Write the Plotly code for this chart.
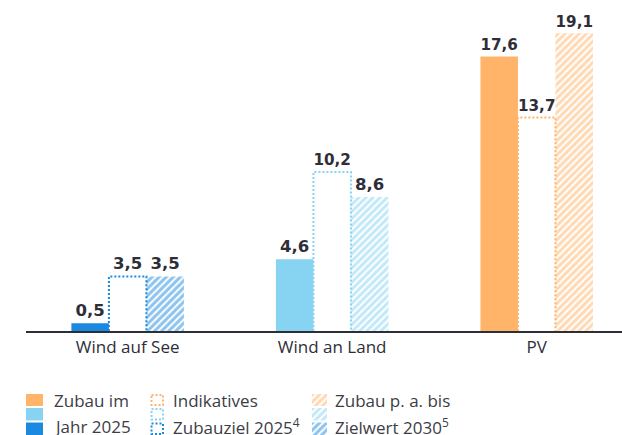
import plotly.graph_objects as go

# ---------------- data ----------------
categories = ["Wind auf See", "Wind an Land", "PV"]
zubau_2025 = [0.5, 4.6, 17.6]          # Zubau im Jahr 2025 (solid)
zubauziel_2025 = [3.5, 10.2, 13.7]     # Indikatives Zubauziel 2025 (dotted)
zubau_bis_2030 = [3.5, 8.6, 19.1]      # Zubau p. a. bis Zielwert 2030 (hatched)
cat_colors = ["#1A89E0", "#87D4F2", "#FFB469"]

legend_col1 = ["Zubau im", "Jahr 2025"]
legend_col2 = ["Indikatives", "Zubauziel 2025<sup>4</sup>"]
legend_col3 = ["Zubau p. a. bis", "Zielwert 2030<sup>5</sup>"]
legend_colors = ["#FFB469", "#87D4F2", "#1A89E0"]

# ---------------- style ----------------
W, H = 622, 435
TXT = "#2E2E38"
LEG_TXT = "#3C3C46"
FONT = "Open Sans"
NUMFONT = "DejaVu Sans"
bw = 0.1834  # bar width in category units
idx = list(range(len(categories)))
HATCH = dict(shape="/", bgcolor="white", size=5, solidity=0.6)

def fmt(v):
    return f"{v:.1f}".replace(".", ",")

fig = go.Figure()

# solid bars
fig.add_trace(go.Bar(
    x=[i - bw for i in idx], y=zubau_2025, width=bw,
    marker=dict(color=cat_colors, line=dict(width=0)),
    text=[fmt(v) for v in zubau_2025], textposition="outside",
    textfont=dict(family=NUMFONT, size=16.5, color=TXT, weight="bold"),
    cliponaxis=False, showlegend=False, hoverinfo="skip"))

# dotted (outline only) bars - transparent bar for the label
fig.add_trace(go.Bar(
    x=idx, y=zubauziel_2025, width=bw,
    marker=dict(color="rgba(0,0,0,0)", line=dict(width=0)),
    text=[fmt(v) for v in zubauziel_2025], textposition="outside",
    textfont=dict(family=NUMFONT, size=16.5, color=TXT, weight="bold"),
    cliponaxis=False, showlegend=False, hoverinfo="skip"))

# hatched bars
fig.add_trace(go.Bar(
    x=[i + bw for i in idx], y=zubau_bis_2030, width=bw,
    marker=dict(color="white", line=dict(width=0),
                pattern=dict(fgcolor=cat_colors, **HATCH)),
    text=[fmt(v) for v in zubau_bis_2030], textposition="outside",
    textfont=dict(family=NUMFONT, size=16.5, color=TXT, weight="bold"),
    cliponaxis=False, showlegend=False, hoverinfo="skip"))

# dotted outlines for the target bars
for i, v, c in zip(idx, zubauziel_2025, cat_colors):
    l, r = i - bw / 2, i + bw / 2
    fig.add_trace(go.Scatter(
        x=[l, l, r, r], y=[0, v, v, 0], mode="lines",
        line=dict(color=c, width=2, dash="2px,2px"),
        cliponaxis=False, showlegend=False, hoverinfo="skip"))

# ---------------- legend (pixel coordinate overlay axes) ----------------
sw_rows = [(394, 406), (408, 420.5), (422.5, 435)]
col_x = [(26, 43), (150.5, 164), (312, 327)]
for (y0, y1), c in zip(sw_rows, legend_colors):
    # solid swatch
    x0, x1 = col_x[0]
    fig.add_shape(type="rect", xref="x2", yref="y2", x0=x0, x1=x1, y0=y0, y1=y1,
                  fillcolor=c, line=dict(width=0))
    # dotted swatch
    x0, x1 = col_x[1]
    fig.add_shape(type="rect", xref="x2", yref="y2", x0=x0 + 1, x1=x1 - 1, y0=y0 + 1, y1=y1 - 1,
                  fillcolor="rgba(0,0,0,0)", line=dict(color=c, width=2, dash="2px,2px"))
    # hatched swatch
    x0, x1 = col_x[2]
    fig.add_trace(go.Scatter(
        x=[x0, x1, x1, x0, x0], y=[y0, y0, y1, y1, y0], xaxis="x2", yaxis="y2",
        mode="lines", line=dict(width=0), fill="toself", fillcolor="white",
        fillpattern=dict(fgcolor=c, **HATCH),
        showlegend=False, hoverinfo="skip"))

text_rows = [400.5, 426]
text_x = [52, 171, 333]
for col, tx in zip([legend_col1, legend_col2, legend_col3], text_x):
    for label, ty in zip(col, text_rows):
        fig.add_annotation(x=tx, y=ty, xref="x2", yref="y2", text=label,
                           showarrow=False, xanchor="left", yanchor="middle",
                           font=dict(family=FONT, size=17, color=LEG_TXT))

fig.update_layout(
    width=W, height=H,
    margin=dict(l=0, r=0, t=0, b=0),
    paper_bgcolor="white", plot_bgcolor="rgba(0,0,0,0)",
    barmode="overlay", showlegend=False,
    separators=",.",
    xaxis=dict(domain=[26 / W, 1], range=[-0.497, 2.417], tickvals=idx, ticktext=categories,
               showline=True, linecolor=TXT, linewidth=2, ticks="", showgrid=False,
               zeroline=False, tickfont=dict(family=FONT, size=17, color=TXT),
               fixedrange=True, automargin=False),
    yaxis=dict(domain=[104 / H, 1], range=[0, 331 / 15.59], visible=False,
               showgrid=False, zeroline=False, fixedrange=True),
    xaxis2=dict(domain=[0, 1], range=[0, W], visible=False, anchor="y2"),
    yaxis2=dict(domain=[0, 1], range=[H, 0], visible=False, anchor="x2"),
)

fig.write_html("out.html", config={"displayModeBar": False},
               post_script="document.body.style.margin='0px';document.body.style.overflow='hidden';")
